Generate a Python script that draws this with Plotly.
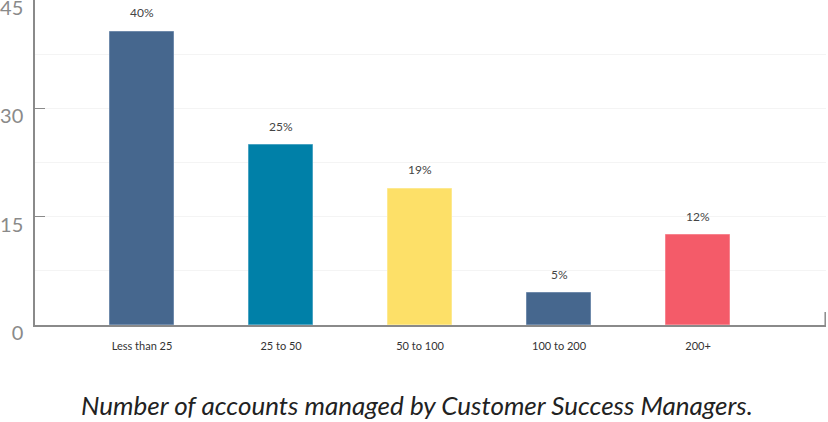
import plotly.graph_objects as go

categories = ["Less than 25", "25 to 50", "50 to 100", "100 to 200", "200+"]
values = [40.6, 24.9, 18.9, 4.4, 12.4]
labels = ["40%", "25%", "19%", "5%", "12%"]
colors = ["#46678e", "#0080a8", "#fde068", "#46678e", "#f45b69"]
border_colors = ["#6f8aab", "#4aa3c2", "#fde990", "#6f8aab", "#f7838e"]
y_ticks = [0, 15, 30, 45]
title_text = "Number of accounts managed by Customer Success Managers."

xs = list(range(len(categories)))

fig = go.Figure()
fig.add_trace(go.Bar(
    x=xs,
    y=values,
    width=0.46,
    marker=dict(color=colors, line=dict(color=border_colors, width=1)),
    hoverinfo="skip",
))

annotations = [
    dict(x=x, y=v, xref="x", yref="y", text=t, showarrow=False,
         yanchor="middle", yshift=19,
         font=dict(family="Lato", size=12, color="#444444"))
    for x, v, t in zip(xs, values, labels)
]
annotations.append(dict(
    text=title_text, xref="paper", yref="paper",
    x=0.483, y=-0.246, xanchor="center", yanchor="middle",
    showarrow=False,
    font=dict(family="Lato", size=26, color="#222222", style="italic"),
))

fig.update_layout(
    width=828, height=422,
    margin=dict(l=35, r=2, t=0, b=97, autoexpand=False),
    paper_bgcolor="white", plot_bgcolor="white",
    showlegend=False,
    bargap=0,
    font=dict(family="Lato"),
    xaxis=dict(
        range=[-0.77, 4.92],
        tickvals=xs,
        ticktext=categories,
        tickfont=dict(family="Lato", size=11, color="#333333"),
        showgrid=False, zeroline=False,
        showline=True, linecolor="#8a8a8a", linewidth=1.5,
        ticks="", ticklabelstandoff=10,
        automargin=False,
    ),
    yaxis=dict(
        range=[0, 45],
        tickvals=y_ticks,
        tickfont=dict(family="Lato", size=20, color="#8a8a8a"),
        showgrid=True, gridcolor="#f4f4f4", gridwidth=1,
        zeroline=False,
        showline=True, linecolor="#8a8a8a", linewidth=1.5,
        ticks="inside", ticklen=10, tickcolor="#8a8a8a", tickwidth=1,
        ticklabelstandoff=6,
        ticklabelshift=8,
        ticklabeloverflow="allow",
        automargin=False,
        minor=dict(dtick=7.5, showgrid=True, gridcolor="#f4f4f4", ticks=""),
    ),
    annotations=annotations,
    shapes=[dict(
        type="line", xref="paper", yref="paper",
        x0=0.999, x1=0.999, y0=0, y1=0.04,
        line=dict(color="#8a8a8a", width=1.5),
    )],
)

fig.write_html(
    "out.html",
    config={"displayModeBar": False},
    post_script="document.body.style.margin='0';document.body.style.overflow='hidden';",
)
